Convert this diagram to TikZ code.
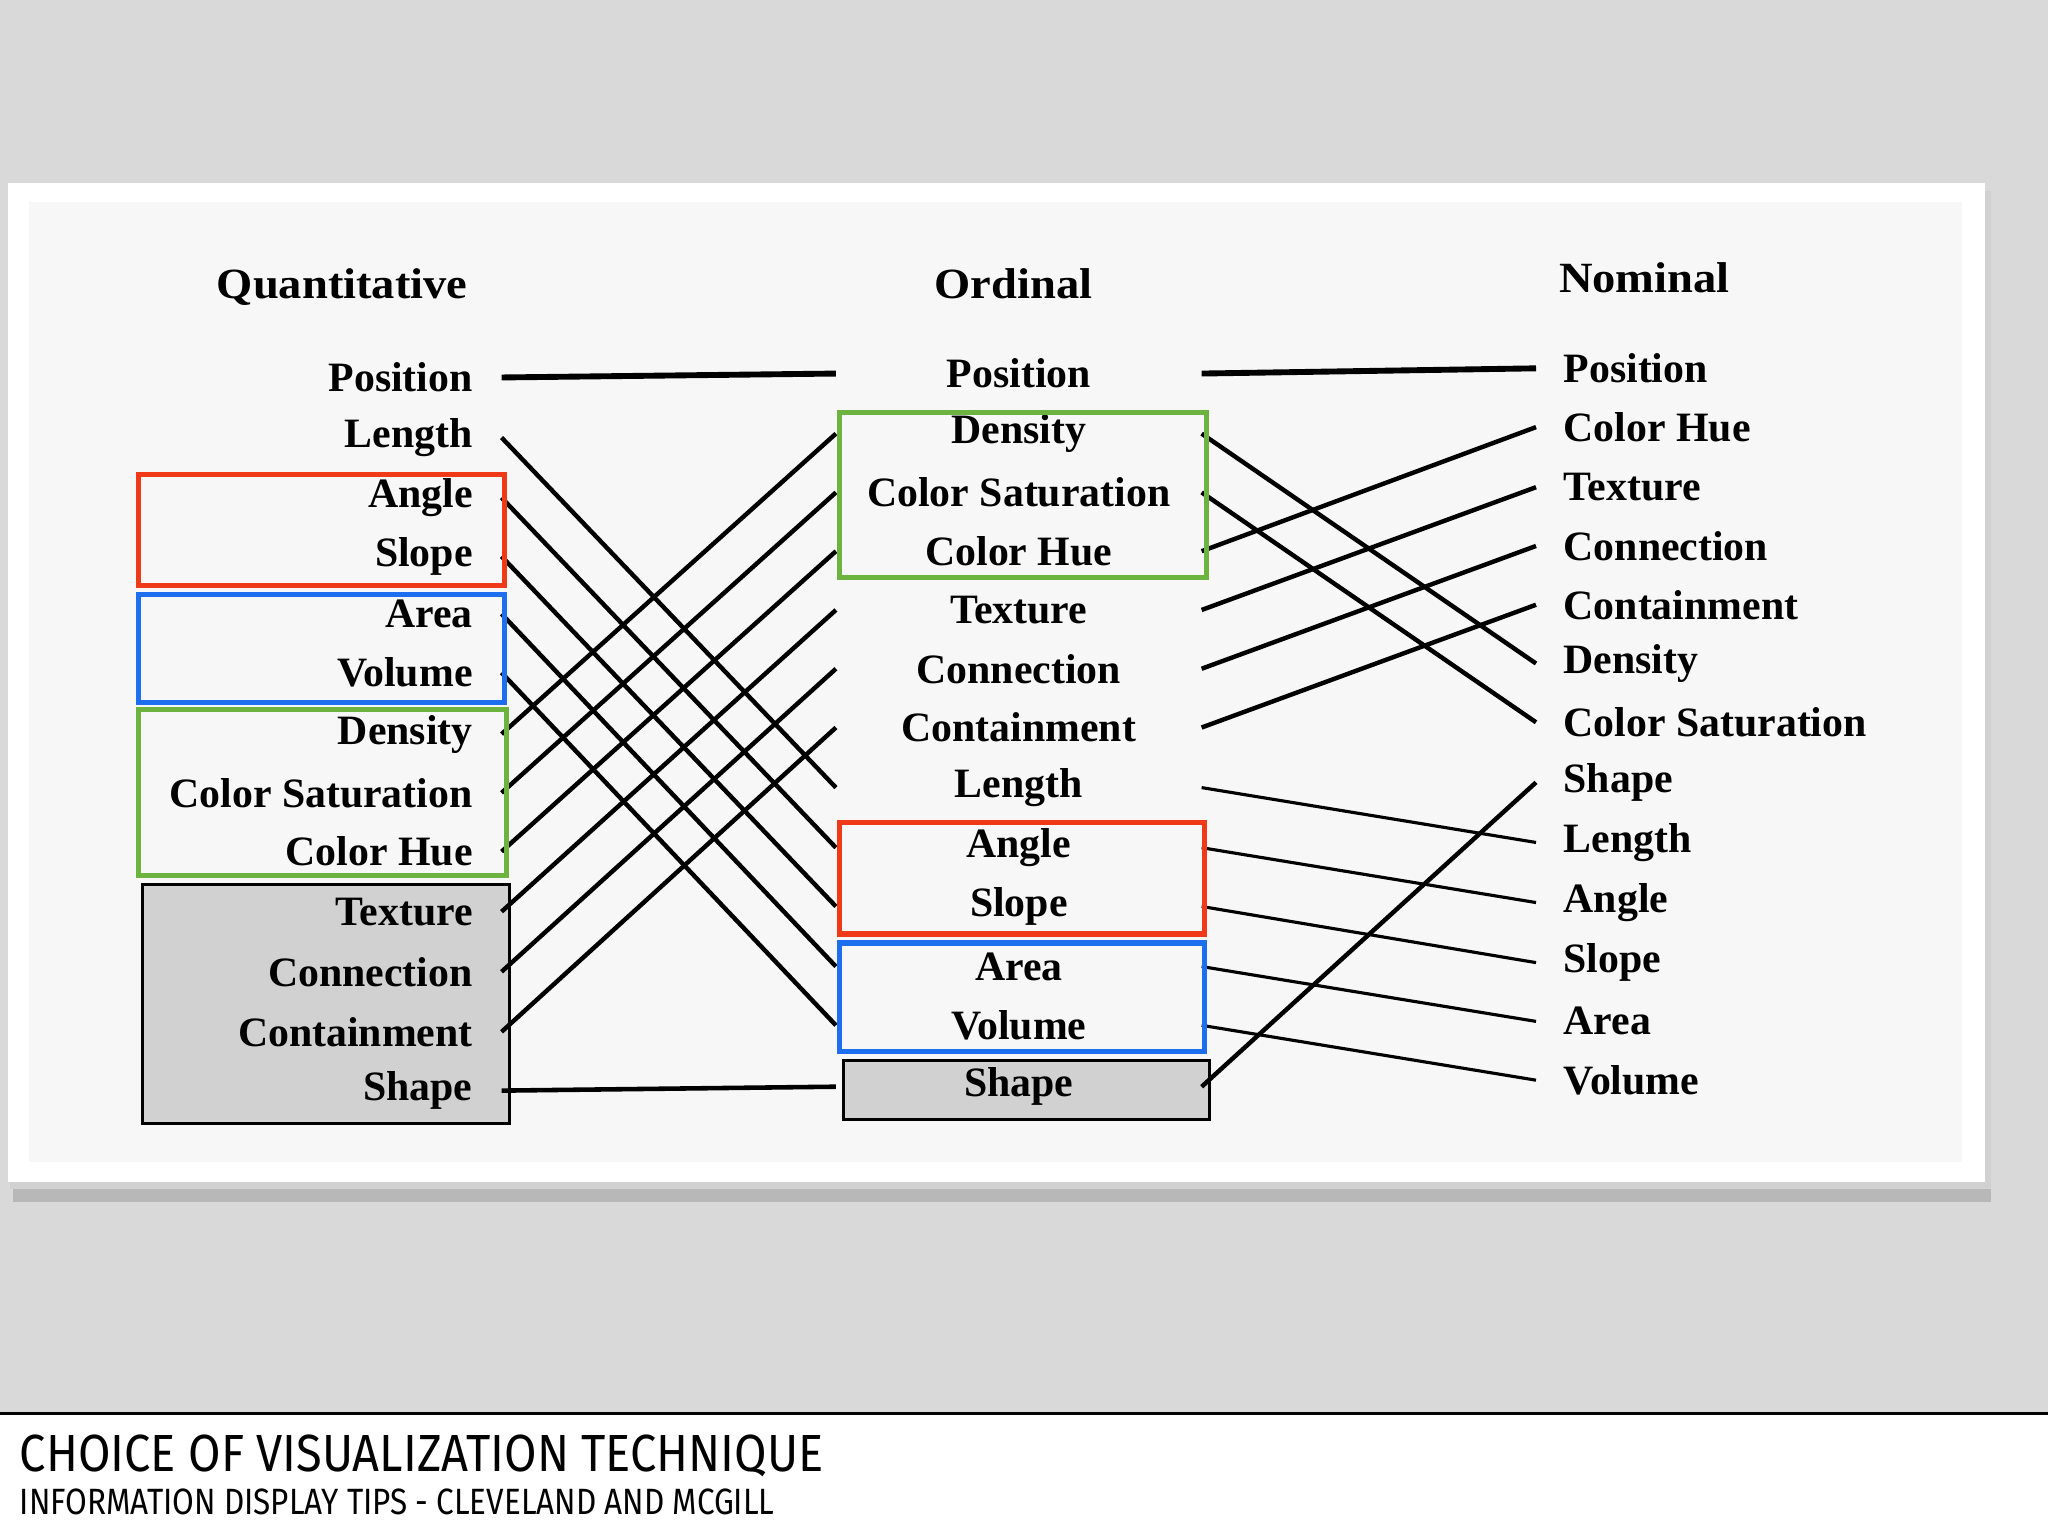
\documentclass[tikz,border=0pt]{standalone}
\usepackage{fontspec}
\setmainfont{Liberation Serif}
\newfontfamily\capfont{Fira Sans}
\definecolor{bg}{HTML}{D9D9D9}
\definecolor{myred}{HTML}{F03A17}
\definecolor{myblue}{HTML}{1E6EF0}
\definecolor{mygreen}{HTML}{6DB33F}
\begin{document}
\begin{tikzpicture}[x=1pt,y=-1pt,
  lab/.style={font=\fontsize{32}{34}\selectfont\bfseries, inner sep=0pt},
  head/.style={font=\fontsize{33}{35}\selectfont\bfseries, inner sep=0pt, xscale=1.08},
  link/.style={line width=3.4pt},
  thin link/.style={line width=2.4pt},
  frame/.style={line width=4pt}]
\useasboundingbox (0,0) rectangle (1568,1175);
\fill[bg] (0,0) rectangle (1568,1082);
\fill[white] (0,1082) rectangle (1568,1175);
\draw[line width=2pt] (0,1082) -- (1568,1082);
\fill[black!28] (10,905) rectangle (1524,920);
\fill[black!18] (8,146) rectangle (1524,910);
\fill[white] (6,140) rectangle (1520,905);
\fill[black!3] (22,155) rectangle (1502,890);
% headers
\node[head] (hq) at (262,220) {Quantitative};
\node[head] (ho) at (776,217) {Ordinal};
\node[head] (hn) at (1259,213) {Nominal};
% gray shaded boxes
\fill[black!18] (109,677) rectangle (390,860);
\draw[line width=2.5pt] (109,677) rectangle (390,860);
\fill[black!18] (646,812) rectangle (926,857);
\draw[line width=2.5pt] (646,812) rectangle (926,857);
% left column
\foreach \t/\y [count=\i] in {Position/289,Length/335,Angle/381,Slope/426,Area/470,Volume/515,Density/562,Color Saturation/607,Color Hue/652,Texture/698,Connection/744,Containment/790,Shape/835}{
  \node[lab,anchor=east] (L\i) at (362,\y) {\t};
  \coordinate (la\i) at (384,\y);
}
% middle
\foreach \t/\y [count=\i] in {Position/286,Density/332,Color Saturation/377,Color Hue/422,Texture/467,Connection/512,Containment/557,Length/603,Angle/649,Slope/694,Area/740,Volume/785,Shape/832}{
  \node[lab] (M\i) at (780,\y) {\t};
  \coordinate (ma\i) at (640,\y);
  \coordinate (mb\i) at (920,\y);
}
% right
\foreach \t/\y [count=\i] in {Position/282,Color Hue/327,Texture/373,Connection/418,Containment/463,Density/508,Color Saturation/553,Shape/599,Length/645,Angle/691,Slope/737,Area/782,Volume/827}{
  \node[lab,anchor=west] (R\i) at (1197,\y) {\t};
  \coordinate (ra\i) at (1176,\y);
}
% left-mid connectors
\draw[line width=4.5pt] (la1) -- (ma1);
\draw[line width=3.5pt] (la13) -- (ma13);
\foreach \a/\b in {2/8,3/9,4/10,5/11,6/12,7/2,8/3,9/4,10/5,11/6,12/7}
  \draw[link] (la\a) -- (ma\b);
% mid-right connectors
\draw[line width=4.5pt] (mb1) -- (ra1);
\foreach \a/\b in {2/6,3/7,4/2,5/3,6/4,7/5}
  \draw[link] (mb\a) -- (ra\b);
\foreach \a/\b in {8/9,9/10,10/11,11/12,12/13}
  \draw[thin link] (mb\a) -- (ra\b);
\draw[link] (mb13) -- (ra8);
% coloured frames
\draw[frame,myred] (106,363) rectangle (386,448);
\draw[frame,myblue] (106,455) rectangle (386,538);
\draw[frame,mygreen] (106,543) rectangle (388,670);
\draw[frame,mygreen] (643,316) rectangle (924,442);
\draw[frame,myred] (643,630) rectangle (922,715);
\draw[frame,myblue] (643,722) rectangle (922,805);
% caption
\node[anchor=west,inner sep=0pt,font=\capfont\fontsize{40}{42}\selectfont,xscale=0.9] (t1) at (15,1115) {CHOICE OF VISUALIZATION TECHNIQUE};
\node[anchor=west,inner sep=0pt,font=\capfont\fontsize{28}{30}\selectfont,xscale=0.86] (t2) at (15,1150) {INFORMATION DISPLAY TIPS - CLEVELAND AND MCGILL};
\end{tikzpicture}
\end{document}
